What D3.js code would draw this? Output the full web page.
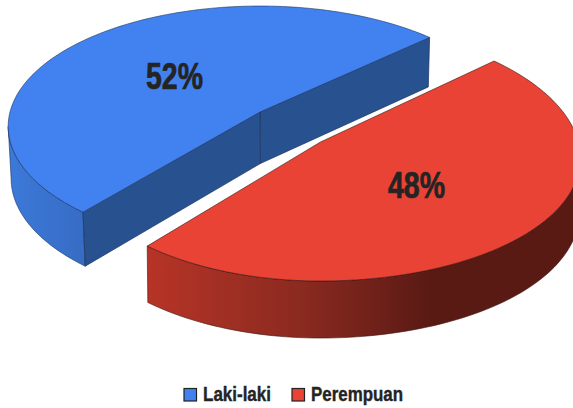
<!DOCTYPE html>
<html><head><meta charset="utf-8">
<script src="https://cdn.jsdelivr.net/npm/d3@7"></script>
<style>html,body{margin:0;padding:0;background:#fff}svg{display:block}
text{font-family:"Liberation Sans",sans-serif;font-weight:700;fill:#242424;stroke:#242424}</style>
</head><body><svg id="c" width="573" height="408"></svg>
<script>
const categories = ["Laki-laki", "Perempuan"];
const values = [52, 48];
const labels = ["52%", "48%"];
const topColors = ["#4282F0", "#E94335"];
const edgeColors = ["#1B3360", "#3A1410"];
const cutColor = "#28518F";

const svg = d3.select("#c");
const defs = svg.append("defs");
// one perspective view per slice, because the second slice is pulled toward the viewer
const views = [
  { k: 0.12, depth: 51.5, warp: 0, shrink: 0.99, sx: d3.scaleLinear().domain([-1, 1]).range([10, 510]), sy: d3.scaleLinear().domain([-1, 1]).range([-6.7, 230.7]) },
  { k: 0.09, depth: 54.4, warp: 10, shrink: 0.996, sx: d3.scaleLinear().domain([-1, 1]).range([69.5, 571.5]), sy: d3.scaleLinear().domain([-1, 1]).range([15.5, 268.5]) }
];
function pt(i, u, v) {
  const s = views[i], w = 1 - s.k * v;
  return { x: s.sx(u / w) + s.warp * Math.max(0, u) * (v + 0.68), y: s.sy(v / w), w };
}
function rim(i, a) { return pt(i, Math.cos(a), Math.sin(a)); }
function drop(i, p) { const s = views[i]; return [300 + (p.x - 300) * s.shrink, p.y + s.depth * Math.pow(p.w, -0.5)]; }
const line = d3.line();

const startA = 130 * Math.PI / 180;
const pie = d3.pie().sort(null).value(d => d).startAngle(startA).endAngle(startA + 2 * Math.PI);
const arcs = pie(values);

function sample(a0, a1) {
  const n = Math.max(8, Math.round(Math.abs(a1 - a0) * 40));
  return d3.range(n + 1).map(i => a0 + (a1 - a0) * i / n);
}

const gradBlue = defs.append("linearGradient").attr("id", "gb").attr("gradientUnits", "userSpaceOnUse")
  .attr("x1", 8).attr("x2", 85).attr("y1", 0).attr("y2", 0);
gradBlue.append("stop").attr("offset", 0).attr("stop-color", "#3C79DA");
gradBlue.append("stop").attr("offset", 1).attr("stop-color", "#376CC4");
const gradRed = defs.append("linearGradient").attr("id", "gr").attr("gradientUnits", "userSpaceOnUse")
  .attr("x1", 147).attr("x2", 430).attr("y1", 0).attr("y2", 0);
gradRed.append("stop").attr("offset", 0).attr("stop-color", "#B73427");
gradRed.append("stop").attr("offset", 0.54).attr("stop-color", "#8B2A20");
gradRed.append("stop").attr("offset", 1).attr("stop-color", "#5A1A14");
const outerFill = ["url(#gb)", "url(#gr)"];

function wall(i, a0, a1) {
  const up = sample(a0, a1).map(a => rim(i, a));
  const pts = up.map(p => [p.x, p.y]).concat(up.slice().reverse().map(p => drop(i, p)));
  svg.append("path").attr("d", line(pts) + "Z").attr("fill", outerFill[i])
    .attr("stroke", edgeColors[i]).attr("stroke-width", 0.6);
}
function cut(i, a) {
  const c = pt(i, 0, 0), p = rim(i, a);
  const pts = [[c.x, c.y], [p.x, p.y], drop(i, p), drop(i, c)];
  svg.append("path").attr("d", line(pts) + "Z").attr("fill", cutColor)
    .attr("stroke", edgeColors[i]).attr("stroke-width", 0.7);
}

const a = arcs[0], b = arcs[1];
wall(0, a.startAngle, Math.PI - views[0].k);
cut(0, a.endAngle);
cut(0, a.startAngle);
wall(1, 2 * Math.PI, b.endAngle);

[a, b].forEach((s, i) => {
  const c = pt(i, 0, 0);
  const pts = [[c.x, c.y]].concat(sample(s.startAngle, s.endAngle).map(t => { const p = rim(i, t); return [p.x, p.y]; }));
  svg.append("path").attr("d", line(pts) + "Z").attr("fill", topColors[i])
    .attr("stroke", edgeColors[i]).attr("stroke-width", 0.6).attr("stroke-linejoin", "round");
});

const labelPos = [[146, 89], [388, 198]];
labels.forEach((t, i) => {
  svg.append("text").attr("x", labelPos[i][0]).attr("y", labelPos[i][1]).attr("stroke-width", 0.7)
    .attr("font-size", 36).attr("textLength", 57).attr("lengthAdjust", "spacingAndGlyphs").text(t);
});

const legendX = [184, 292];
const legendW = [68, 92];
categories.forEach((t, i) => {
  svg.append("rect").attr("x", legendX[i]).attr("y", 388.5).attr("width", 12.5).attr("height", 12.5)
    .attr("fill", topColors[i]).attr("stroke", "#222").attr("stroke-width", 1.2);
  svg.append("text").attr("x", legendX[i] + 19).attr("y", 401).attr("font-size", 20).attr("stroke-width", 0.4)
    .attr("textLength", legendW[i]).attr("lengthAdjust", "spacingAndGlyphs").text(t);
});
</script></body></html>
